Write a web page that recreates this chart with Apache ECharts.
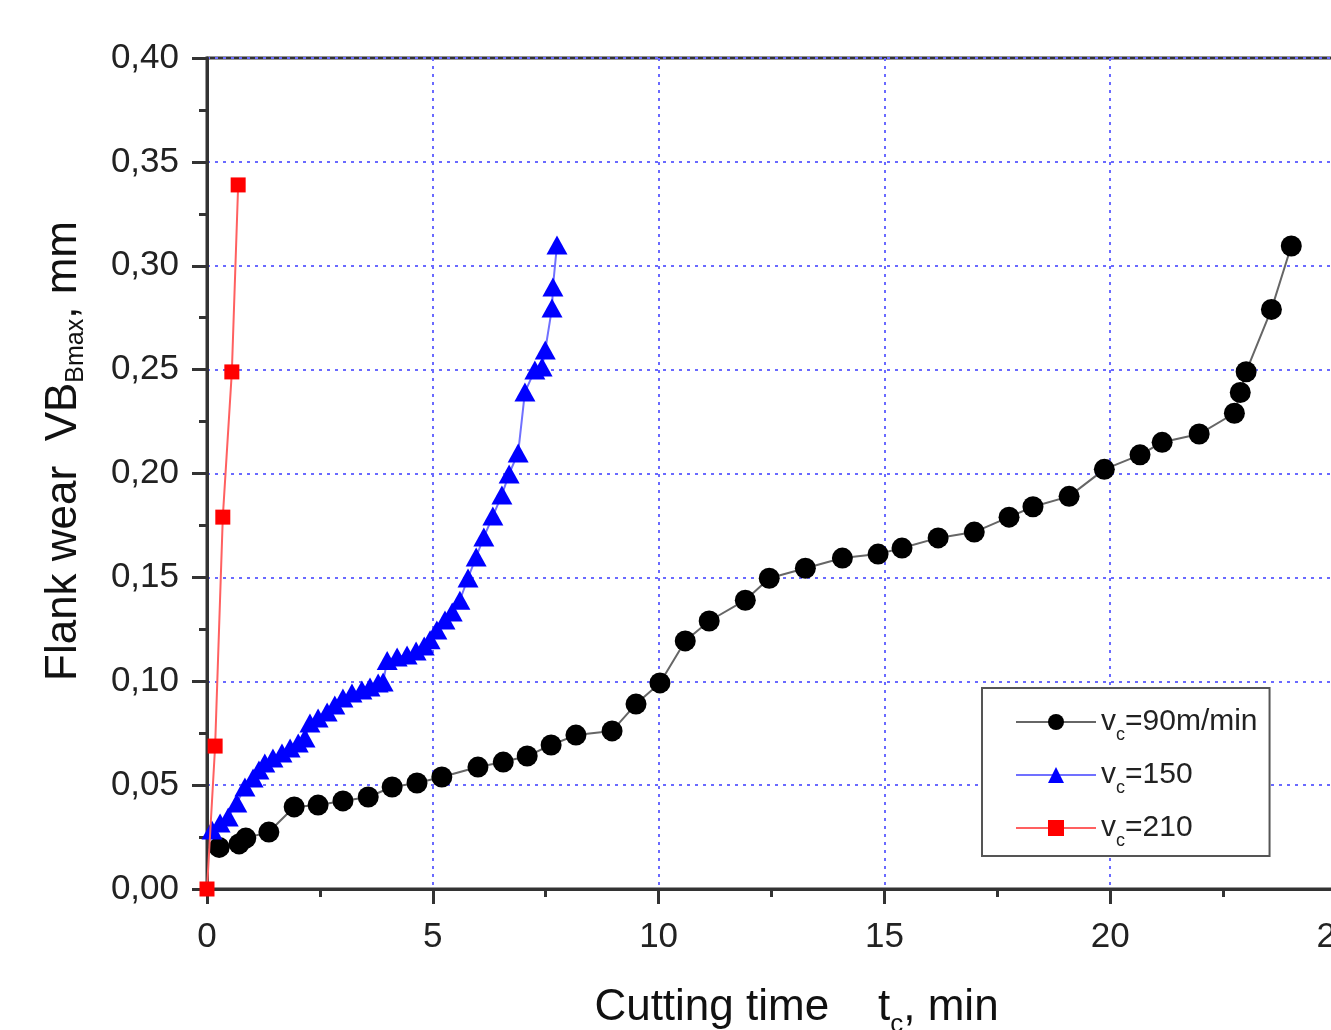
<!DOCTYPE html>
<html>
<head>
<meta charset="utf-8">
<style>
  html, body { margin: 0; padding: 0; background: #fff; }
  #chart { width: 1331px; height: 1030px; }
</style>
<script src="https://cdn.jsdelivr.net/npm/echarts@6/dist/echarts.min.js"></script>
</head>
<body>
<div id="chart"></div>
<script>
// ---- data ----
const t90 = [0.27, 0.71, 0.86, 1.37, 1.93, 2.46, 3.01, 3.57, 4.10, 4.65,
  5.20, 6.00, 6.56, 7.09, 7.62, 8.17, 8.97, 9.50, 10.03, 10.59,
  11.12, 11.92, 12.45, 13.25, 14.07, 14.86, 15.39, 16.19, 16.99, 17.76,
  18.29, 19.09, 19.87, 20.66, 21.15, 21.97, 22.75, 22.88, 23.01, 23.57, 24.01];
const vb90 = [0.020, 0.0217, 0.0245, 0.0274, 0.0395, 0.0404, 0.0424, 0.0443, 0.0491, 0.0510,
  0.0539, 0.0587, 0.0611, 0.0640, 0.0693, 0.0741, 0.0761, 0.0890, 0.0992, 0.1194,
  0.129, 0.139, 0.1496, 0.1544, 0.1593, 0.1612, 0.1641, 0.169, 0.1718, 0.179,
  0.184, 0.189, 0.202, 0.209, 0.215, 0.219, 0.229, 0.239, 0.249, 0.279, 0.3095];

const t150 = [0.11, 0.29, 0.47, 0.66, 0.84, 1.02, 1.15, 1.28, 1.46, 1.66,
  1.84, 2.02, 2.17, 2.28, 2.46, 2.66, 2.83, 3.01, 3.21, 3.43,
  3.61, 3.79, 3.90, 3.99, 4.21, 4.43, 4.63, 4.81, 4.94, 5.09,
  5.27, 5.43, 5.60, 5.78, 5.96, 6.13, 6.33, 6.53, 6.69, 6.89,
  7.04, 7.26, 7.42, 7.49, 7.64, 7.66, 7.75];
const vb150 = [0.0284, 0.0318, 0.0347, 0.0414, 0.0491, 0.0534, 0.0573, 0.0607, 0.0631, 0.0655,
  0.0679, 0.0703, 0.0727, 0.0799, 0.0823, 0.0852, 0.0886, 0.0919, 0.0943, 0.0958,
  0.0972, 0.0992, 0.0996, 0.110, 0.1117, 0.1126, 0.1146, 0.117, 0.120, 0.1247,
  0.1295, 0.1333, 0.139, 0.1497, 0.1598, 0.1694, 0.1795, 0.1897, 0.1998, 0.2099,
  0.2392, 0.2498, 0.2513, 0.2594, 0.2797, 0.2898, 0.310];

const t210 = [0, 0.18, 0.35, 0.55, 0.69];
const vb210 = [0, 0.0688, 0.179, 0.2489, 0.3389];

const seriesNames = ['vc=90m/min', 'vc=150', 'vc=210'];
const legendLabels = ['=90m/min', '=150', '=210'];

const zip = (a, b) => a.map((x, i) => [x, b[i]]);

const FONT = '"Liberation Sans", Arial, sans-serif';
const chart = echarts.init(document.getElementById('chart'), null, { renderer: 'canvas' });

const gridLine = { show: true, lineStyle: { color: '#6a6aff', width: 2, type: [3, 5] } };

chart.setOption({
  backgroundColor: '#fff',
  animation: false,
  textStyle: { fontFamily: FONT },
  grid: {
    left: 207, top: 58, width: 1129, height: 831,
    containLabel: false, outerBoundsMode: 'none',
    show: true, borderColor: '#333', borderWidth: 3, backgroundColor: 'transparent'
  },
  xAxis: {
    type: 'value', min: 0, max: 25, interval: 5,
    axisLine: { lineStyle: { color: '#333', width: 3 } },
    axisTick: { length: 15, lineStyle: { color: '#333', width: 3 } },
    minorTick: { show: true, splitNumber: 2, length: 8, lineStyle: { color: '#333', width: 3 } },
    splitLine: gridLine,
    axisLabel: { fontSize: 35, color: '#222', margin: 31, fontFamily: FONT },
    name: '{m|Cutting time    t}{s|c}{m|, min}',
    nameLocation: 'middle', nameGap: 89,
    nameTextStyle: {
      padding: [0, 0, 0, 50],
      rich: {
        m: { fontSize: 44, color: '#111', lineHeight: 60, fontFamily: FONT },
        s: { fontSize: 26, color: '#111', lineHeight: 26, verticalAlign: 'bottom', fontFamily: FONT }
      }
    }
  },
  yAxis: {
    type: 'value', min: 0, max: 0.4, interval: 0.05,
    axisLine: { lineStyle: { color: '#333', width: 3 } },
    axisTick: { length: 15, lineStyle: { color: '#333', width: 3 } },
    minorTick: { show: true, splitNumber: 2, length: 8, lineStyle: { color: '#333', width: 3 } },
    splitLine: gridLine,
    axisLabel: {
      fontSize: 35, color: '#222', margin: 28, fontFamily: FONT,
      formatter: v => v.toFixed(2).replace('.', ',')
    },
    name: '{m|Flank wear  VB}{s|Bmax}{m|, mm}',
    nameLocation: 'middle', nameGap: 118,
    nameTextStyle: {
      padding: [0, 0, 0, 45],
      rich: {
        m: { fontSize: 44, color: '#111', lineHeight: 50, fontFamily: FONT },
        s: { fontSize: 25, color: '#111', lineHeight: 25, verticalAlign: 'bottom', fontFamily: FONT }
      }
    }
  },
  legend: {
    left: 982, top: 688,
    orient: 'vertical',
    data: seriesNames,
    itemWidth: 80, itemHeight: 20, itemGap: 16,
    padding: [19, 12, 6, 33],
    borderColor: '#555', borderWidth: 2, backgroundColor: '#fff',
    formatter: name => '{m|v}{s|c}{m|' + legendLabels[seriesNames.indexOf(name)] + '}',
    textStyle: {
      rich: {
        m: { fontSize: 30, color: '#222', lineHeight: 44, fontFamily: FONT },
        s: { fontSize: 18, color: '#222', lineHeight: 18, verticalAlign: 'bottom', fontFamily: FONT }
      }
    }
  },
  series: [
    {
      name: seriesNames[0], type: 'line', data: zip(t90, vb90),
      symbol: 'circle', symbolSize: 21,
      itemStyle: { color: '#000' },
      lineStyle: { color: '#666', width: 2 },
      z: 2
    },
    {
      name: seriesNames[1], type: 'line', data: zip(t150, vb150),
      symbol: 'triangle', symbolSize: [21, 19],
      itemStyle: { color: '#0000ff' },
      lineStyle: { color: '#7070ff', width: 2 },
      z: 3
    },
    {
      name: seriesNames[2], type: 'line', data: zip(t210, vb210),
      symbol: 'rect', symbolSize: 15,
      itemStyle: { color: '#ff0000' },
      lineStyle: { color: '#ff6060', width: 2 },
      z: 4
    }
  ]
});
</script>
</body>
</html>
